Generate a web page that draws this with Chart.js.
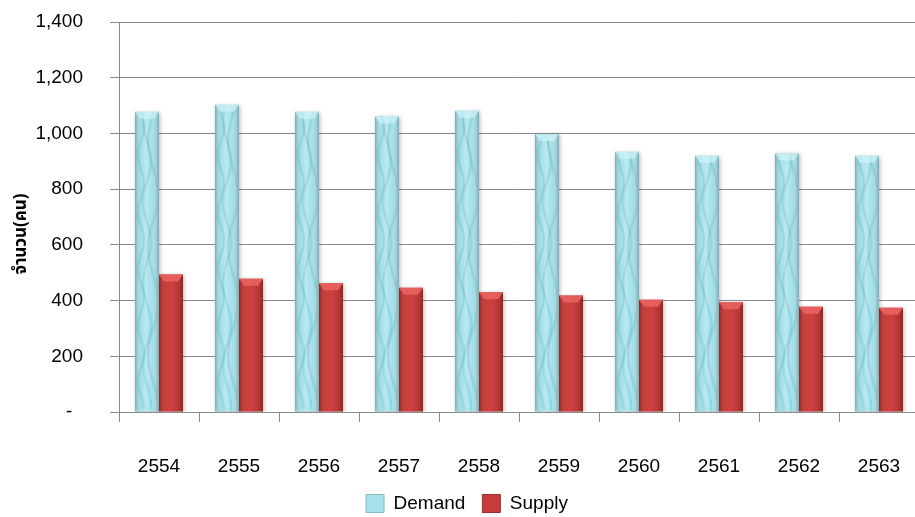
<!DOCTYPE html>
<html>
<head>
<meta charset="utf-8">
<script src="https://cdn.jsdelivr.net/npm/chart.js@4"></script>
<style>
  html, body { margin: 0; padding: 0; overflow: hidden; background: #fff; }
  canvas { display: block; }
</style>
</head>
<body>
<canvas id="chart" width="919" height="517"></canvas>
<script>
// data
const years = ['2554', '2555', '2556', '2557', '2558', '2559', '2560', '2561', '2562', '2563'];
const demand = [1078, 1103, 1078, 1061, 1081, 998, 934, 920, 928, 920];
const supply = [494, 478, 462, 446, 430, 418, 403, 394, 378, 374];
const seriesNames = ['Demand', 'Supply'];
const yTitle = 'จำนวน(คน)';

const FONT = 'Arial, "Liberation Sans", sans-serif';
const GRID = '#8a8a8a';

Chart.defaults.font.family = FONT;
Chart.defaults.font.size = 19;
Chart.defaults.color = '#000';

const CAT_PCT = 0.6;
const flatColors = ['#a9e1ea', '#c63c3b'];

// horizontal gradient across each bar, worked out from the category scale
function barFill(stops, flat, side) {
  return (ctx) => {
    const chart = ctx.chart;
    const x = chart.scales.x;
    if (ctx.type !== 'data' || !chart.chartArea || !x) return flat;
    const w = x.getPixelForValue(1) - x.getPixelForValue(0);
    const bw = w * CAT_PCT / 2;
    const cx = x.getPixelForValue(ctx.dataIndex) + side * bw / 2;
    const g = chart.ctx.createLinearGradient(cx - bw / 2, 0, cx + bw / 2, 0);
    stops.forEach(([o, c]) => g.addColorStop(o, c));
    return g;
  };
}

const demandStops = [[0, '#7aaeb7'], [0.12, '#9fd6df'], [0.45, '#b6eaf1'], [0.85, '#a2d9e2'], [1, '#7badb5']];
const supplyStops = [[0, '#a83131'], [0.12, '#c63d3b'], [0.5, '#cd4241'], [0.85, '#b53535'], [1, '#8c2424']];
const bevel = ['rgba(205,243,248,0.7)', 'rgba(232,96,92,0.95)'];

const barEffects = {
  id: 'barEffects',
  beforeDraw(chart) {
    // the legend sits a bit right of the canvas centre
    if (chart.legend) chart.legend.left = 15;
  },
  beforeDatasetsDraw(chart) {
    const c = chart.ctx;
    c.save();
    c.shadowColor = 'rgba(0,0,0,0.28)';
    c.shadowBlur = 4;
    c.shadowOffsetX = 1;
    c.shadowOffsetY = 1;
  },
  afterDatasetsDraw(chart) {
    const c = chart.ctx;
    c.restore();
    chart.data.datasets.forEach((ds, i) => {
      chart.getDatasetMeta(i).data.forEach(bar => {
        const l = bar.x - bar.width / 2, r = bar.x + bar.width / 2, t = bar.y, b = bar.base;
        if (i === 0) {
          // soft watery texture on the demand bars
          c.save();
          c.beginPath();
          c.rect(l + 2, t, r - l - 4, b - t);
          c.clip();
          c.strokeStyle = 'rgba(70,140,150,0.16)';
          c.lineWidth = 2.5;
          for (let k = 0; k < 3; k++) {
            c.beginPath();
            const x0 = l + (k + 1) * (r - l) / 4;
            for (let y = t; y <= b; y += 3) {
              const xx = x0 + (3 + k) * Math.sin((y + k * 23) / (9 + 4 * k));
              y === t ? c.moveTo(xx, y) : c.lineTo(xx, y);
            }
            c.stroke();
          }
          c.restore();
        }
        c.fillStyle = bevel[i];
        c.beginPath();
        c.moveTo(l, t);
        c.lineTo(r, t);
        c.lineTo(r - 5, t + 7);
        c.lineTo(l + 5, t + 7);
        c.closePath();
        c.fill();
      });
    });
  }
};

new Chart(document.getElementById('chart'), {
  type: 'bar',
  data: {
    labels: years,
    datasets: [{
      label: seriesNames[0],
      data: demand,
      backgroundColor: barFill(demandStops, flatColors[0], -1),
      categoryPercentage: CAT_PCT,
      barPercentage: 1.0
    }, {
      label: seriesNames[1],
      data: supply,
      backgroundColor: barFill(supplyStops, flatColors[1], 1),
      categoryPercentage: CAT_PCT,
      barPercentage: 1.0
    }]
  },
  options: {
    responsive: false,
    animation: false,
    layout: { padding: { top: 22, right: 0, bottom: -6, left: 0 } },
    scales: {
      x: {
        grid: { drawOnChartArea: false, color: GRID, tickLength: 10, offset: true },
        border: { color: GRID },
        ticks: { padding: 33, maxRotation: 0 },
        afterFit(scale) {
          scale.height = 65;
          scale.paddingLeft = 0;
          scale.paddingRight = 0;
        }
      },
      y: {
        min: 0,
        max: 1400,
        grid: { color: GRID, tickLength: 9 },
        border: { color: GRID },
        ticks: {
          stepSize: 200,
          padding: 27,
          callback: v => v === 0 ? '-  ' : v.toLocaleString('en-US')
        },
        title: {
          display: true,
          text: yTitle + '\u2003\u2003',
          font: { family: 'Tahoma, "Noto Sans Thai", "DejaVu Sans", sans-serif', size: 17, weight: 'bold' },
          padding: { top: 12, bottom: 0 }
        },
        afterFit(scale) {
          scale.width = 119;
          scale.paddingTop = 0;
          scale.paddingBottom = 0;
        }
      }
    },
    plugins: {
      legend: {
        position: 'bottom',
        labels: {
          boxWidth: 18,
          boxHeight: 18,
          padding: 17,
          font: { size: 19 },
          generateLabels(chart) {
            const items = Chart.defaults.plugins.legend.labels.generateLabels(chart);
            items.forEach((it, i) => {
              it.fillStyle = flatColors[i];
              it.strokeStyle = i === 0 ? '#86bcc4' : '#9e2c2c';
              it.lineWidth = 1;
            });
            return items;
          }
        }
      },
      tooltip: { enabled: false }
    }
  },
  plugins: [barEffects]
});
</script>
</body>
</html>
